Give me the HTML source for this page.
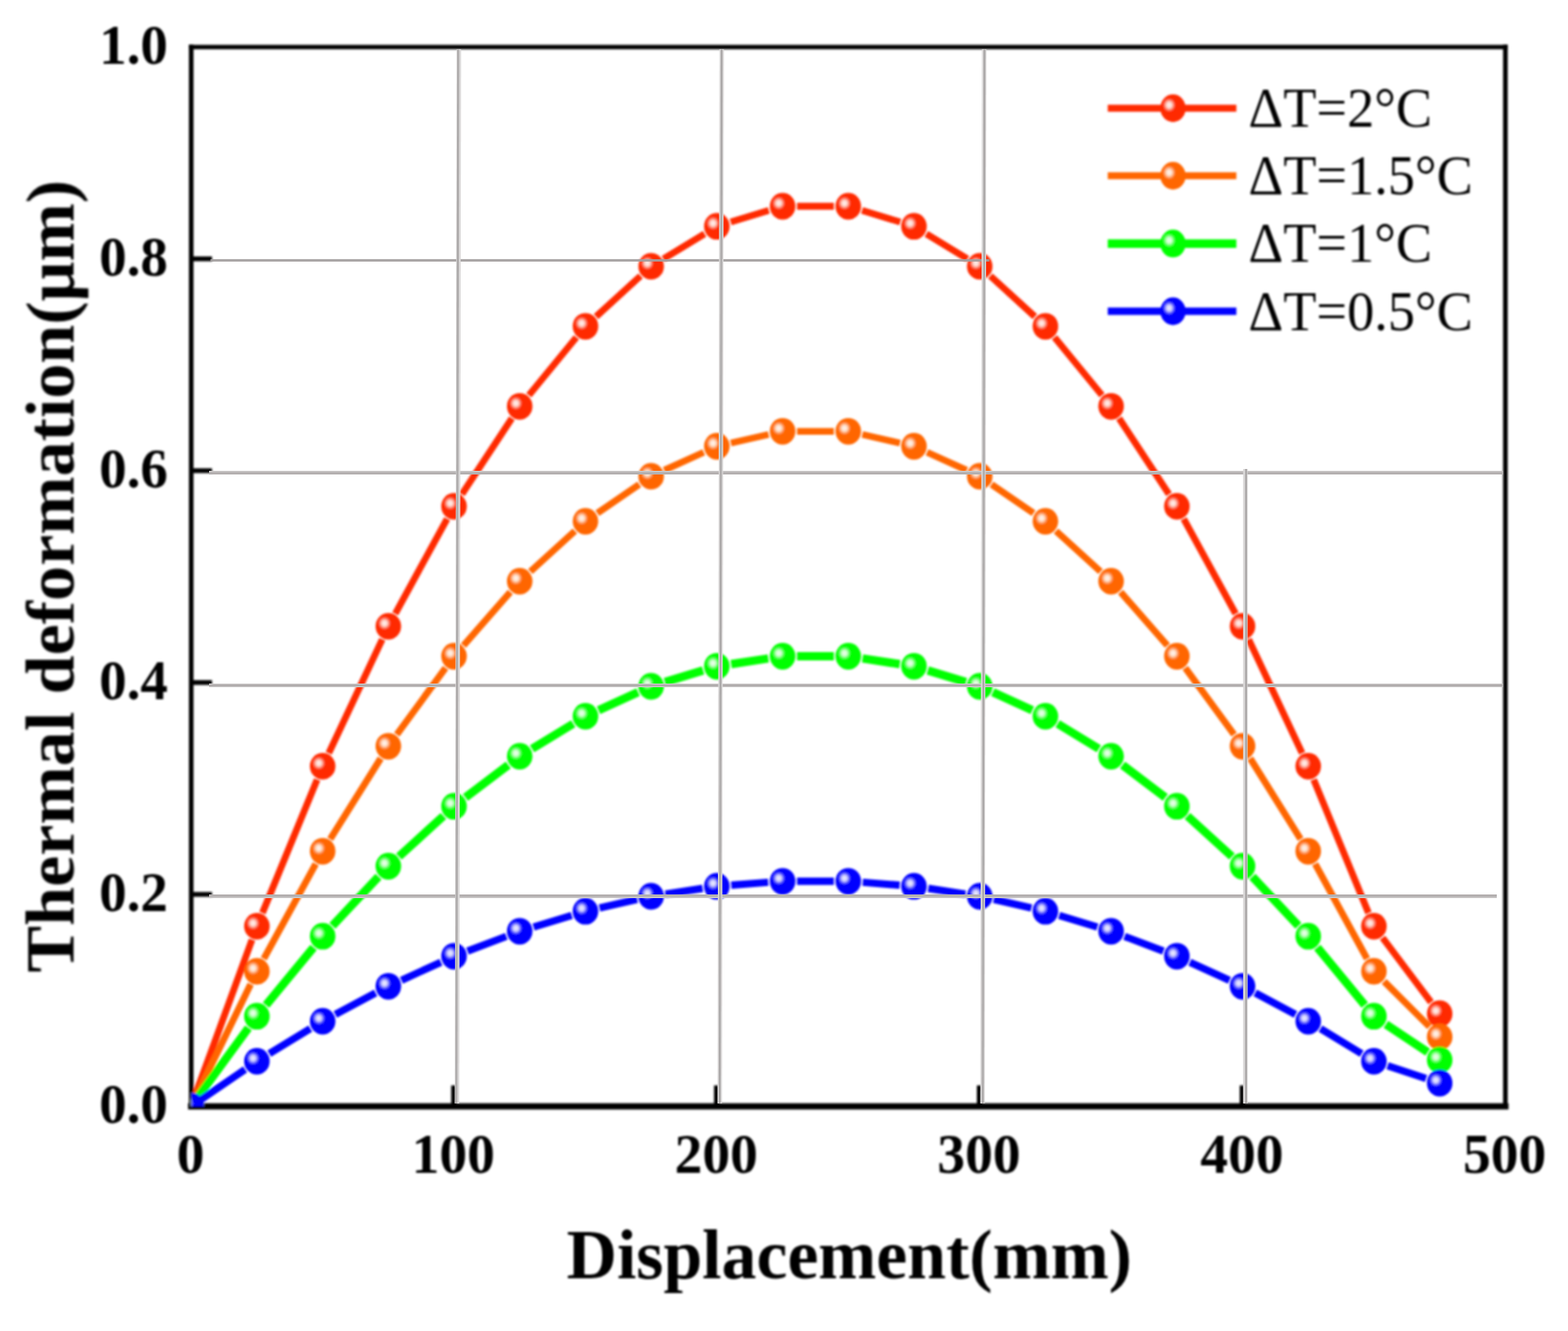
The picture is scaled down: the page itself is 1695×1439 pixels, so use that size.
<!DOCTYPE html>
<html lang="en"><head><meta charset="utf-8"><title>Thermal deformation</title>
<style>html,body{margin:0;padding:0;background:#fff}body{width:1695px;height:1439px;overflow:hidden}svg{display:block}text{font-family:"Liberation Serif","Noto Serif CJK SC",serif;fill:#000}.b{font-weight:bold}</style></head><body>
<svg width="1695" height="1439" viewBox="0 0 1695 1439">
<defs>
<radialGradient id="sb" gradientUnits="objectBoundingBox" cx="0.35" cy="0.385" r="0.25"><stop offset="0" stop-color="#f2f2ff"/><stop offset="0.4" stop-color="#d1d1ff"/><stop offset="1" stop-color="#0000ff"/></radialGradient>
<radialGradient id="sg" gradientUnits="objectBoundingBox" cx="0.35" cy="0.385" r="0.25"><stop offset="0" stop-color="#f2fff2"/><stop offset="0.4" stop-color="#d1ffd1"/><stop offset="1" stop-color="#00ff00"/></radialGradient>
<radialGradient id="so" gradientUnits="objectBoundingBox" cx="0.35" cy="0.385" r="0.25"><stop offset="0" stop-color="#fff7f2"/><stop offset="0.4" stop-color="#ffe3d1"/><stop offset="1" stop-color="#ff6600"/></radialGradient>
<radialGradient id="sr" gradientUnits="objectBoundingBox" cx="0.35" cy="0.385" r="0.25"><stop offset="0" stop-color="#fff4f2"/><stop offset="0.4" stop-color="#ffd9d1"/><stop offset="1" stop-color="#ff2a00"/></radialGradient>
<clipPath id="plot"><rect x="206.7" y="50.8" width="1420.6" height="1145.2"/></clipPath>
<filter id="soft2" filterUnits="userSpaceOnUse" x="200" y="270" width="900" height="24"><feGaussianBlur stdDeviation="0.7"/></filter>
<filter id="soft" x="-2%" y="-2%" width="104%" height="104%"><feGaussianBlur stdDeviation="0.95"/></filter>
</defs>
<rect width="1695" height="1439" fill="#fff"/>
<g filter="url(#soft)">
<g stroke="#000" stroke-width="5.2" fill="none">
<line x1="206.7" y1="966.96" x2="229.2" y2="966.96"/>
<line x1="206.7" y1="737.92" x2="229.2" y2="737.92"/>
<line x1="206.7" y1="508.88" x2="229.2" y2="508.88"/>
<line x1="206.7" y1="279.84" x2="229.2" y2="279.84"/>
<line x1="490.32" y1="1196" x2="490.32" y2="1173.5"/>
<line x1="774.44" y1="1196" x2="774.44" y2="1173.5"/>
<line x1="1058.56" y1="1196" x2="1058.56" y2="1173.5"/>
<line x1="1342.68" y1="1196" x2="1342.68" y2="1173.5"/>
</g>
<g stroke="#000" fill="none" stroke-linecap="square">
<line x1="206.7" y1="50.8" x2="1627.3" y2="50.8" stroke-width="4.8"/>
<line x1="206.7" y1="1196.1" x2="1627.3" y2="1196.1" stroke-width="6.8"/>
<line x1="206.7" y1="50.8" x2="206.7" y2="1196" stroke-width="5"/>
<line x1="1627.3" y1="50.8" x2="1627.3" y2="1196" stroke-width="5"/>
</g>
<g clip-path="url(#plot)">
<path fill="none" stroke="#ff2a00" stroke-width="7.3" d="M206.7 1196.0L272.4 1016.1M283.7 987.0L342.8 842.9M355.4 814.3L413.2 691.2M427.3 663.4L483.3 561.0M499.4 534.3L553.3 452.3M571.8 427.2L623.0 364.8M644.4 342.2L692.4 298.4M717.2 279.8L761.6 252.8M789.9 240.1L831.0 227.6M861.6 223.0L901.4 223.0M931.9 227.6L973.1 240.1M1001.4 252.8L1045.7 279.8M1070.6 298.4L1118.6 342.2M1140.0 364.8L1191.2 427.2M1209.7 452.3L1263.6 534.3M1279.6 561.0L1335.7 663.4M1349.8 691.2L1407.6 814.3M1420.1 842.9L1479.3 987.0M1494.6 1013.9L1546.9 1083.5"/>
<ellipse cx="206.7" cy="1196.0" rx="13.8" ry="14.4" fill="url(#sr)"/>
<ellipse cx="277.7" cy="1001.4" rx="13.8" ry="14.4" fill="url(#sr)"/>
<ellipse cx="348.8" cy="828.4" rx="13.8" ry="14.4" fill="url(#sr)"/>
<ellipse cx="419.8" cy="677.1" rx="13.8" ry="14.4" fill="url(#sr)"/>
<ellipse cx="490.8" cy="547.4" rx="13.8" ry="14.4" fill="url(#sr)"/>
<ellipse cx="561.8" cy="439.3" rx="13.8" ry="14.4" fill="url(#sr)"/>
<ellipse cx="632.9" cy="352.8" rx="13.8" ry="14.4" fill="url(#sr)"/>
<ellipse cx="703.9" cy="287.9" rx="13.8" ry="14.4" fill="url(#sr)"/>
<ellipse cx="774.9" cy="244.7" rx="13.8" ry="14.4" fill="url(#sr)"/>
<ellipse cx="846.0" cy="223.0" rx="13.8" ry="14.4" fill="url(#sr)"/>
<ellipse cx="917.0" cy="223.0" rx="13.8" ry="14.4" fill="url(#sr)"/>
<ellipse cx="988.0" cy="244.7" rx="13.8" ry="14.4" fill="url(#sr)"/>
<ellipse cx="1059.1" cy="287.9" rx="13.8" ry="14.4" fill="url(#sr)"/>
<ellipse cx="1130.1" cy="352.8" rx="13.8" ry="14.4" fill="url(#sr)"/>
<ellipse cx="1201.1" cy="439.3" rx="13.8" ry="14.4" fill="url(#sr)"/>
<ellipse cx="1272.2" cy="547.4" rx="13.8" ry="14.4" fill="url(#sr)"/>
<ellipse cx="1343.2" cy="677.1" rx="13.8" ry="14.4" fill="url(#sr)"/>
<ellipse cx="1414.2" cy="828.4" rx="13.8" ry="14.4" fill="url(#sr)"/>
<ellipse cx="1485.2" cy="1001.4" rx="13.8" ry="14.4" fill="url(#sr)"/>
<ellipse cx="1556.3" cy="1096.0" rx="13.8" ry="14.4" fill="url(#sr)"/>
<path fill="none" stroke="#ff6600" stroke-width="7.3" d="M206.7 1196.0L270.9 1064.1M285.2 1036.4L341.3 934.0M357.0 907.1L411.5 820.0M429.0 794.2L481.6 722.1M501.1 697.8L551.6 640.2M573.4 617.9L621.4 574.1M645.8 554.8L691.0 523.7M718.1 508.4L760.7 489.0M790.1 479.0L830.8 469.8M861.6 466.3L901.4 466.3M932.2 469.8L972.8 479.0M1002.2 489.0L1044.9 508.4M1071.9 523.7L1117.2 554.8M1141.6 574.1L1189.6 617.9M1211.4 640.2L1261.9 697.8M1281.3 722.1L1334.0 794.2M1351.5 820.0L1405.9 907.1M1421.7 934.0L1477.7 1036.4M1496.3 1061.1L1545.2 1110.0"/>
<ellipse cx="206.7" cy="1196.0" rx="13.8" ry="14.4" fill="url(#so)"/>
<ellipse cx="277.7" cy="1050.1" rx="13.8" ry="14.4" fill="url(#so)"/>
<ellipse cx="348.8" cy="920.3" rx="13.8" ry="14.4" fill="url(#so)"/>
<ellipse cx="419.8" cy="806.8" rx="13.8" ry="14.4" fill="url(#so)"/>
<ellipse cx="490.8" cy="709.5" rx="13.8" ry="14.4" fill="url(#so)"/>
<ellipse cx="561.8" cy="628.4" rx="13.8" ry="14.4" fill="url(#so)"/>
<ellipse cx="632.9" cy="563.6" rx="13.8" ry="14.4" fill="url(#so)"/>
<ellipse cx="703.9" cy="514.9" rx="13.8" ry="14.4" fill="url(#so)"/>
<ellipse cx="774.9" cy="482.5" rx="13.8" ry="14.4" fill="url(#so)"/>
<ellipse cx="846.0" cy="466.3" rx="13.8" ry="14.4" fill="url(#so)"/>
<ellipse cx="917.0" cy="466.3" rx="13.8" ry="14.4" fill="url(#so)"/>
<ellipse cx="988.0" cy="482.5" rx="13.8" ry="14.4" fill="url(#so)"/>
<ellipse cx="1059.1" cy="514.9" rx="13.8" ry="14.4" fill="url(#so)"/>
<ellipse cx="1130.1" cy="563.6" rx="13.8" ry="14.4" fill="url(#so)"/>
<ellipse cx="1201.1" cy="628.4" rx="13.8" ry="14.4" fill="url(#so)"/>
<ellipse cx="1272.2" cy="709.5" rx="13.8" ry="14.4" fill="url(#so)"/>
<ellipse cx="1343.2" cy="806.8" rx="13.8" ry="14.4" fill="url(#so)"/>
<ellipse cx="1414.2" cy="920.3" rx="13.8" ry="14.4" fill="url(#so)"/>
<ellipse cx="1485.2" cy="1050.1" rx="13.8" ry="14.4" fill="url(#so)"/>
<ellipse cx="1556.3" cy="1121.0" rx="13.8" ry="14.4" fill="url(#so)"/>
<path fill="none" stroke="#00ff00" stroke-width="9" d="M206.7 1196.0L268.5 1111.3M287.6 1086.6L338.9 1024.3M359.4 1000.8L409.1 947.9M431.3 926.0L479.3 882.2M503.2 862.2L549.4 827.1M575.2 809.5L619.6 782.5M647.1 767.9L689.7 748.4M718.8 737.4L760.0 724.9M790.4 718.0L830.5 711.9M861.6 709.5L901.4 709.5M932.4 711.9L972.6 718.0M1003.0 724.9L1044.1 737.4M1073.3 748.4L1115.9 767.9M1143.4 782.5L1187.8 809.5M1213.5 827.1L1259.7 862.2M1283.7 882.2L1331.7 926.0M1353.9 947.9L1403.5 1000.8M1424.1 1024.3L1475.3 1086.6M1498.2 1107.4L1543.3 1137.4"/>
<ellipse cx="206.7" cy="1196.0" rx="13.8" ry="14.4" fill="url(#sg)"/>
<ellipse cx="277.7" cy="1098.7" rx="13.8" ry="14.4" fill="url(#sg)"/>
<ellipse cx="348.8" cy="1012.2" rx="13.8" ry="14.4" fill="url(#sg)"/>
<ellipse cx="419.8" cy="936.5" rx="13.8" ry="14.4" fill="url(#sg)"/>
<ellipse cx="490.8" cy="871.7" rx="13.8" ry="14.4" fill="url(#sg)"/>
<ellipse cx="561.8" cy="817.6" rx="13.8" ry="14.4" fill="url(#sg)"/>
<ellipse cx="632.9" cy="774.4" rx="13.8" ry="14.4" fill="url(#sg)"/>
<ellipse cx="703.9" cy="742.0" rx="13.8" ry="14.4" fill="url(#sg)"/>
<ellipse cx="774.9" cy="720.3" rx="13.8" ry="14.4" fill="url(#sg)"/>
<ellipse cx="846.0" cy="709.5" rx="13.8" ry="14.4" fill="url(#sg)"/>
<ellipse cx="917.0" cy="709.5" rx="13.8" ry="14.4" fill="url(#sg)"/>
<ellipse cx="988.0" cy="720.3" rx="13.8" ry="14.4" fill="url(#sg)"/>
<ellipse cx="1059.1" cy="742.0" rx="13.8" ry="14.4" fill="url(#sg)"/>
<ellipse cx="1130.1" cy="774.4" rx="13.8" ry="14.4" fill="url(#sg)"/>
<ellipse cx="1201.1" cy="817.6" rx="13.8" ry="14.4" fill="url(#sg)"/>
<ellipse cx="1272.2" cy="871.7" rx="13.8" ry="14.4" fill="url(#sg)"/>
<ellipse cx="1343.2" cy="936.5" rx="13.8" ry="14.4" fill="url(#sg)"/>
<ellipse cx="1414.2" cy="1012.2" rx="13.8" ry="14.4" fill="url(#sg)"/>
<ellipse cx="1485.2" cy="1098.7" rx="13.8" ry="14.4" fill="url(#sg)"/>
<ellipse cx="1556.3" cy="1146.0" rx="13.8" ry="14.4" fill="url(#sg)"/>
<path fill="none" stroke="#0000ff" stroke-width="7.9" d="M206.7 1196.0L264.9 1156.2M291.1 1139.2L335.4 1112.2M362.5 1096.8L406.0 1073.6M434.0 1059.8L476.6 1040.3M505.4 1028.3L547.3 1012.4M576.8 1002.3L618.0 989.7M648.1 981.7L688.7 972.4M719.3 966.6L759.5 960.5M790.5 957.0L830.4 953.9M861.6 952.8L901.4 952.8M932.6 953.9L972.5 957.0M1003.5 960.5L1043.6 966.6M1074.3 972.4L1114.9 981.7M1145.0 989.7L1186.2 1002.3M1215.7 1012.4L1257.6 1028.3M1286.3 1040.3L1329.0 1059.8M1356.9 1073.6L1400.4 1096.8M1427.5 1112.2L1471.9 1139.2M1500.0 1152.3L1541.5 1166.1"/>
<ellipse cx="206.7" cy="1196.0" rx="13.8" ry="14.4" fill="url(#sb)"/>
<ellipse cx="277.7" cy="1147.4" rx="13.8" ry="14.4" fill="url(#sb)"/>
<ellipse cx="348.8" cy="1104.1" rx="13.8" ry="14.4" fill="url(#sb)"/>
<ellipse cx="419.8" cy="1066.3" rx="13.8" ry="14.4" fill="url(#sb)"/>
<ellipse cx="490.8" cy="1033.8" rx="13.8" ry="14.4" fill="url(#sb)"/>
<ellipse cx="561.8" cy="1006.8" rx="13.8" ry="14.4" fill="url(#sb)"/>
<ellipse cx="632.9" cy="985.2" rx="13.8" ry="14.4" fill="url(#sb)"/>
<ellipse cx="703.9" cy="969.0" rx="13.8" ry="14.4" fill="url(#sb)"/>
<ellipse cx="774.9" cy="958.2" rx="13.8" ry="14.4" fill="url(#sb)"/>
<ellipse cx="846.0" cy="952.8" rx="13.8" ry="14.4" fill="url(#sb)"/>
<ellipse cx="917.0" cy="952.8" rx="13.8" ry="14.4" fill="url(#sb)"/>
<ellipse cx="988.0" cy="958.2" rx="13.8" ry="14.4" fill="url(#sb)"/>
<ellipse cx="1059.1" cy="969.0" rx="13.8" ry="14.4" fill="url(#sb)"/>
<ellipse cx="1130.1" cy="985.2" rx="13.8" ry="14.4" fill="url(#sb)"/>
<ellipse cx="1201.1" cy="1006.8" rx="13.8" ry="14.4" fill="url(#sb)"/>
<ellipse cx="1272.2" cy="1033.8" rx="13.8" ry="14.4" fill="url(#sb)"/>
<ellipse cx="1343.2" cy="1066.3" rx="13.8" ry="14.4" fill="url(#sb)"/>
<ellipse cx="1414.2" cy="1104.1" rx="13.8" ry="14.4" fill="url(#sb)"/>
<ellipse cx="1485.2" cy="1147.4" rx="13.8" ry="14.4" fill="url(#sb)"/>
<ellipse cx="1556.3" cy="1171.0" rx="13.8" ry="14.4" fill="url(#sb)"/>
</g>
<line x1="1197.5" y1="117" x2="1336.5" y2="117" stroke="#ff2a00" stroke-width="7.6"/>
<ellipse cx="1268" cy="117" rx="13.7" ry="15" fill="url(#sr)"/>
<text transform="translate(1349.5,137) scale(1.012,1.045)" font-size="58">ΔT=2°C</text>
<line x1="1197.5" y1="190" x2="1336.5" y2="190" stroke="#ff6600" stroke-width="7.6"/>
<ellipse cx="1268" cy="190" rx="13.7" ry="15" fill="url(#so)"/>
<text transform="translate(1349.5,210) scale(1.012,1.045)" font-size="58">ΔT=1.5°C</text>
<line x1="1197.5" y1="263.3" x2="1336.5" y2="263.3" stroke="#00ff00" stroke-width="9.3"/>
<ellipse cx="1268" cy="263.3" rx="13.7" ry="15" fill="url(#sg)"/>
<text transform="translate(1349.5,283.3) scale(1.012,1.045)" font-size="58">ΔT=1°C</text>
<line x1="1197.5" y1="336.5" x2="1336.5" y2="336.5" stroke="#0000ff" stroke-width="8.2"/>
<ellipse cx="1268" cy="336.5" rx="13.7" ry="15" fill="url(#sb)"/>
<text transform="translate(1349.5,356.5) scale(1.012,1.045)" font-size="58">ΔT=0.5°C</text>
<text transform="translate(181.5,1214.3) scale(0.99,1.025)" font-size="60" text-anchor="end" class="b">0.0</text>
<text transform="translate(181.5,985.26) scale(0.99,1.025)" font-size="60" text-anchor="end" class="b">0.2</text>
<text transform="translate(181.5,756.22) scale(0.99,1.025)" font-size="60" text-anchor="end" class="b">0.4</text>
<text transform="translate(181.5,527.18) scale(0.99,1.025)" font-size="60" text-anchor="end" class="b">0.6</text>
<text transform="translate(181.5,298.14) scale(0.99,1.025)" font-size="60" text-anchor="end" class="b">0.8</text>
<text transform="translate(181.5,69.1) scale(0.99,1.025)" font-size="60" text-anchor="end" class="b">1.0</text>
<text transform="translate(205.9,1268.4) scale(1,1.025)" font-size="60" text-anchor="middle" class="b">0</text>
<text transform="translate(490.02,1268.4) scale(1,1.025)" font-size="60" text-anchor="middle" class="b">100</text>
<text transform="translate(774.14,1268.4) scale(1,1.025)" font-size="60" text-anchor="middle" class="b">200</text>
<text transform="translate(1058.26,1268.4) scale(1,1.025)" font-size="60" text-anchor="middle" class="b">300</text>
<text transform="translate(1342.38,1268.4) scale(1,1.025)" font-size="60" text-anchor="middle" class="b">400</text>
<text transform="translate(1626.5,1268.4) scale(1,1.025)" font-size="60" text-anchor="middle" class="b">500</text>
<text transform="translate(918,1382.2) scale(1.005,1.025)" font-size="75" text-anchor="middle" class="b">Displacement(mm)</text>
<text transform="translate(79.5,623) rotate(-90) scale(1.01,1)" font-size="75" text-anchor="middle" class="b">Thermal deformation(μm)</text>
</g>
<line x1="227.5" y1="281.5" x2="1069.5" y2="281.5" stroke="#a29e9e" stroke-width="2.4" filter="url(#soft2)"/>
<g fill="none">
<line x1="226" y1="511" x2="1624.5" y2="511" stroke="#cbc8c8" stroke-width="4"/>
<line x1="226" y1="511.6" x2="1624.5" y2="511.6" stroke="#b0acac" stroke-width="2.2"/>
<line x1="226" y1="741" x2="1624.5" y2="741" stroke="#cbc8c8" stroke-width="4"/>
<line x1="226" y1="741" x2="1624.5" y2="741" stroke="#b0acac" stroke-width="2.2"/>
<line x1="226" y1="969" x2="1618" y2="969" stroke="#cbc8c8" stroke-width="4"/>
<line x1="226" y1="968.4" x2="1618" y2="968.4" stroke="#b0acac" stroke-width="2.2"/>
<line x1="496" y1="53.3" x2="494" y2="1193" stroke="#dad8d8" stroke-width="4.8"/>
<line x1="495.3" y1="53.3" x2="493.3" y2="1193" stroke="#adaaaa" stroke-width="2.2"/>
<line x1="780.1" y1="53.3" x2="778" y2="1193" stroke="#dad8d8" stroke-width="4.8"/>
<line x1="780.1" y1="53.3" x2="778" y2="1193" stroke="#adaaaa" stroke-width="2.2"/>
<line x1="1063.9" y1="53.3" x2="1062.1" y2="1193" stroke="#dad8d8" stroke-width="4.8"/>
<line x1="1064.2" y1="53.3" x2="1062.4" y2="1193" stroke="#adaaaa" stroke-width="2.2"/>
<line x1="1346.2" y1="507" x2="1346.2" y2="1193" stroke="#dad8d8" stroke-width="4.8"/>
<line x1="1347" y1="507" x2="1347" y2="1193" stroke="#adaaaa" stroke-width="2.2"/>
</g>
</svg></body></html>
